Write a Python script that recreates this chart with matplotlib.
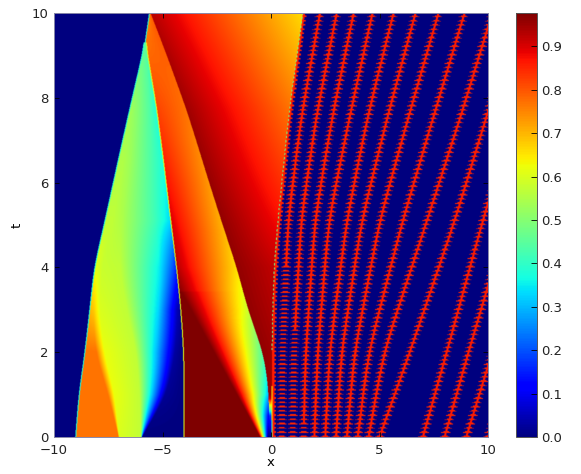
import numpy as np
import matplotlib
matplotlib.use("Agg")
import matplotlib.pyplot as plt
from matplotlib.cm import ScalarMappable
from matplotlib.colors import Normalize

VMAX = 0.977
x_ticks = [-10, -5, 0, 5, 10]
t_ticks = [0, 2, 4, 6, 8, 10]
cbar_ticks = [0.0, 0.1, 0.2, 0.3, 0.4, 0.5, 0.6, 0.7, 0.8, 0.9]

# Left wave (between left shock A and contact C): knot positions and values by t
fan_t = [0, 1, 2, 3, 4, 5.1, 6.5, 7.76, 9.3]
fan_x = [
    [-9.00, -8.85, -8.57, -8.35, -8.14, -7.65, -7.05, -6.50, -5.80],  # A
    [-7.02, -7.50, -8.10, -8.20, -8.00, -7.50, -6.95, -6.42, -5.80],
    [-7.00, -7.20, -7.70, -7.90, -7.80, -7.30, -6.80, -6.32, -5.80],
    [-5.98, -6.05, -6.20, -6.65, -7.00, -6.90, -6.50, -6.10, -5.80],
    [-5.96, -5.50, -5.25, -5.20, -5.10, -5.40, -5.50, -5.60, -5.79],
    [-5.94, -4.80, -4.40, -4.30, -4.50, -4.80, -5.00, -5.35, -5.79],
    [-4.00, -4.00, -4.02, -4.15, -4.35, -4.62, -4.95, -5.27, -5.78],  # C
]
fan_v = [
    [.77, .77, .77, .70, .62, .57, .55, .53, .45],
    [.77, .77, .77, .68, .60, .57, .55, .53, .45],
    [.60, .62, .62, .60, .58, .57, .55, .52, .45],
    [.57, .57, .57, .57, .57, .55, .53, .50, .45],
    [.30, .33, .30, .33, .35, .42, .43, .44, .45],
    [.00, .02, .03, .05, .20, .35, .38, .39, .45],
    [.00, .00, .00, .02, .15, .33, .38, .38, .45],
]

# Middle wave: contact C -> front E -> shock F -> right edge G
top_x_A = -5.60
front_t = [0, 3.43]
front_x = [-0.50, -4.13]
c_t = [0, 3.43, 4, 5, 7.76, 9.3, 10]
c_v = [.975, .975, .93, .90, .82, .77, .75]
f_t = [0, 0.5, 1, 1.5, 2, 3, 4, 4.88, 6, 7, 7.76, 9, 10]
f_x = [-.14, -.08, -.10, -.20, -.37, -1.06, -1.58, -2.15, -2.85, -3.45, -3.92, -4.80, -5.55]
f_v_left = [0, .10, .30, .38, .45, .58, .66, .70, .73, .75, .77, .79, .80]
fr_t = [0, .5, .9, 1, 5, 7.76, 10]
fr_v = [0, .15, .90, .96, .96, .95, .93]
g_t = [0, 2, 3, 4, 5, 6, 7, 8, 9, 10]
g_x = [.05, .05, .08, .15, .30, .50, .70, .92, 1.20, 1.47]
gv_t = [0, .5, .9, 1, 2, 4, 5, 7.76, 10]
gv_v = [0, .2, .90, .95, .95, .92, .88, .77, .66]

# Particle trajectories x(t)
stripe_t = [0, 2, 5.12, 7.59, 10]
stripe_x = [
    [0.5, 0.53, 0.79, 1.41, 2.26],
    [1.0, 1.05, 1.39, 2.10, 3.03],
    [1.5, 1.60, 2.03, 2.84, 3.81],
    [2.0, 2.15, 2.67, 3.64, 4.68],
    [2.5, 2.70, 3.50, 4.47, 5.65],
    [3.0, 3.25, 4.19, 5.39, 6.66],
    [3.5, 3.85, 5.02, 6.36, 7.72],
    [4.0, 4.50, 6.08, 7.51, 8.92],
    [4.5, 5.20, 7.20, 8.76, 10.2],
    [5.0, 6.40, 8.48, 9.95, 11.4],
    [7.0, 8.10, 9.77, 11.2, 12.6],
    [8.0, 9.10, 10.9, 12.3, 13.7],
    [9.0, 10.2, 12.0, 13.4, 14.8],
    [10., 11.2, 13.0, 14.4, 15.8],
]
line_from = [4.0, 2.5, 0.3, 0, 0, 0, 0, 0, 0, 0, 0, 0, 0, 0]

NX, NT = 868, 848
X = np.linspace(-10, 10, NX, endpoint=False) + 10 / NX
T = np.linspace(0, 10, NT, endpoint=False) + 5 / NT
Z = np.zeros((NT, NX))
DT = 0.1
eps = 1e-3
px = 20 / 434


def curve(tt, xx, sigma=0.3):
    """Read-off knots -> path on the row grid, with the corners rounded."""
    y = np.interp(T, tt, xx)
    n = int(3 * sigma / (T[1] - T[0]))
    k = np.exp(-0.5 * (np.arange(-n, n + 1) * (T[1] - T[0]) / sigma) ** 2)
    k /= k.sum()
    return np.convolve(np.pad(y, n, mode="reflect", reflect_type="odd"), k, mode="valid")


A_path = [curve(fan_t + [10], list(r) + [r[-1]]) for r in fan_x]
V_path = [np.interp(T, fan_t, r) for r in fan_v]
F_path = curve(f_t, f_x)
G_path = curve(g_t, g_x)
S_path = [curve(stripe_t, s, 0.5) for s in stripe_x]
A_top = curve([0, 9.3, 10], [fan_x[0][0], fan_x[0][-1], top_x_A], 0.01)

for i, t in enumerate(T):
    row = Z[i]
    ph = (t / DT) % 1
    hw = 0.22 if ph < 0.16 else (0.13 if ph < 0.4 else 0.0)
    for k, path in enumerate(S_path):
        d = np.abs(X - path[i])
        row[d < hw] = 0.85
        if t >= line_from[k]:
            row[d < 0.05] = 0.86
    G = G_path[i]
    dg = np.abs(X - (G + 0.05))
    row[dg < min(hw, 0.14)] = 0.85
    row[dg < 0.05] = 0.86

    ax_ = [p[i] for p in A_path]
    av_ = [p[i] for p in V_path]
    if t > 9.3:
        ax_ = [A_top[i] if t > 9.6 else max(ax_[0], A_top[i])] * 7
    elif t > 9.0:
        ax_ = [min(v, ax_[-1]) for v in ax_]
    C = ax_[-1]
    E = np.interp(t, front_t, front_x) if t < front_t[-1] else C
    F = F_path[i]
    vc = np.interp(t, c_t, c_v)
    xp = ax_ + [C + eps, max(E, C + 2 * eps), F, F + eps, G]
    fp = av_ + [vc, vc, np.interp(t, f_t, f_v_left),
                np.interp(t, fr_t, fr_v), np.interp(t, gv_t, gv_v)]
    xp = np.maximum.accumulate(np.array(xp) + np.arange(len(xp)) * 1e-6)
    m = (X >= xp[0]) & (X <= G)
    row[m] = np.interp(X[m], xp, fp)
    # one pixel discontinuity edges
    A0 = xp[0]
    row[np.abs(X - A0) < px * 0.5] = 0.38
    if t < 9.3:
        row[np.abs(X - C) < px * 0.5] = 0.60
    if t > 2 and ph > 0.5:
        row[np.abs(X - G) < px * 0.5] = 0.47
    elif t < 1.2:
        row[np.abs(X - G) < px * 0.5] = 0.45 if t < 0.4 else 0.65

W, H = 581, 474
fig = plt.figure(figsize=(W / 100, H / 100), dpi=100)
ax = fig.add_axes([54 / W, 1 - 437 / H, 434 / W, 424 / H])
ax.imshow(Z, extent=[-10, 10, 0, 10], origin="lower", aspect="auto", cmap="jet",
          vmin=0, vmax=VMAX, interpolation="bilinear", interpolation_stage="rgba")
ax.set_xlim(-10, 10)
ax.set_ylim(0, 10)
ax.set_xticks(x_ticks)
ax.set_yticks(t_ticks)
ax.set_xlabel("x", fontsize=9.5, labelpad=-1)
ax.set_ylabel("t", fontsize=9.5, labelpad=6)
ax.tick_params(direction="in", top=True, right=True, length=3.5, width=0.6,
               labelsize=9.5, color="black", labelcolor="#222222")
ax.tick_params(axis="x", pad=5)
ax.tick_params(axis="y", pad=4)
for s in ax.spines.values():
    s.set_linewidth(0.7)
    s.set_color("#8888aa")

cax = fig.add_axes([516 / W, 1 - 437 / H, 21 / W, 424 / H])
cb = fig.colorbar(ScalarMappable(Normalize(0, VMAX), "jet"), cax=cax, ticks=cbar_ticks)
cb.ax.set_yticklabels([f"{v:.1f}" for v in cbar_ticks])
cb.ax.tick_params(direction="in", length=4, width=0.6, labelsize=9.5, pad=3, labelcolor="#222222")
cb.outline.set_linewidth(0.7)
cb.outline.set_edgecolor("#555555")

fig.savefig("out.png", dpi=100)
